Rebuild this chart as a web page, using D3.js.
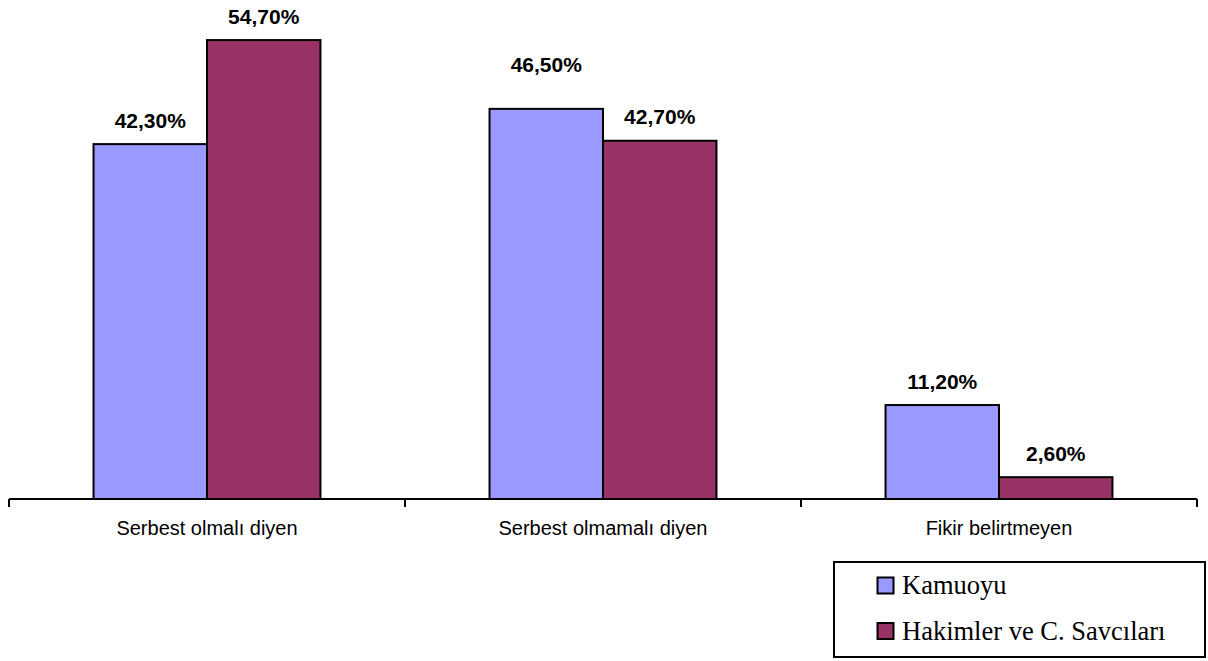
<!DOCTYPE html>
<html>
<head>
<meta charset="utf-8">
<script src="https://cdn.jsdelivr.net/npm/d3@7"></script>
<style>
  html, body { margin: 0; padding: 0; background: #fff; }
  svg { display: block; }
</style>
</head>
<body>
<svg id="chart" width="1208" height="661"></svg>
<script>
const categories = ["Serbest olmalı diyen", "Serbest olmamalı diyen", "Fikir belirtmeyen"];
const seriesNames = ["Kamuoyu", "Hakimler ve C. Savcıları"];
const kamuoyu = [42.3, 46.5, 11.2];
const hakimler = [54.7, 42.7, 2.6];
const valueLabels = [["42,30%", "46,50%", "11,20%"], ["54,70%", "42,70%", "2,60%"]];

const colors = ["#9999FF", "#993366"];
const seriesValues = [kamuoyu, hakimler];

const svg = d3.select("#chart");
const baseY = 499;

const x0 = d3.scaleBand().domain(categories).range([9, 1197]).paddingInner(0).paddingOuter(0);
const x1 = d3.scaleBand().domain(seriesNames).range([0, x0.bandwidth()]).paddingInner(0).paddingOuter(0.745);
const y = d3.scaleLinear().domain([0, 60]).range([baseY, baseY - 8.39 * 60]);

const data = [];
categories.forEach((c, i) => {
  seriesNames.forEach((s, j) => {
    data.push({ cat: c, ser: s, si: j, ci: i, v: seriesValues[j][i], label: valueLabels[j][i] });
  });
});

// bars
svg.append("g").selectAll("rect").data(data).join("rect")
  .attr("x", d => x0(d.cat) + x1(d.ser))
  .attr("y", d => y(d.v))
  .attr("width", x1.bandwidth())
  .attr("height", d => y(0) - y(d.v))
  .attr("fill", d => colors[d.si])
  .attr("stroke", "#000")
  .attr("stroke-width", 2);

// value labels
svg.append("g").selectAll("text").data(data).join("text")
  .attr("x", d => x0(d.cat) + x1(d.ser) + x1.bandwidth() / 2)
  .attr("y", d => y(d.v) - (d.si === 0 && d.ci === 1 ? 36.5 : 16.5))
  .attr("text-anchor", "middle")
  .attr("font-family", "Liberation Sans, Arial, sans-serif")
  .attr("font-weight", "bold")
  .attr("font-size", 21)
  .attr("fill", "#000")
  .text(d => d.label);

// axis
const axis = svg.append("g");
axis.append("line")
  .attr("x1", x0.range()[0]).attr("x2", x0.range()[1])
  .attr("y1", baseY).attr("y2", baseY)
  .attr("stroke", "#000").attr("stroke-width", 2);
const tickXs = categories.map(c => x0(c)).concat([x0.range()[1]]);
axis.selectAll("line.tick").data(tickXs).join("line")
  .attr("class", "tick")
  .attr("x1", d => d).attr("x2", d => d)
  .attr("y1", baseY).attr("y2", baseY + 8)
  .attr("stroke", "#000").attr("stroke-width", 2);
axis.selectAll("text").data(categories).join("text")
  .attr("x", d => x0(d) + x0.bandwidth() / 2)
  .attr("y", 535)
  .attr("text-anchor", "middle")
  .attr("font-family", "Liberation Sans, Arial, sans-serif")
  .attr("font-size", 20)
  .attr("fill", "#000")
  .text(d => d);

// legend
const lg = svg.append("g");
lg.append("rect")
  .attr("x", 834).attr("y", 562).attr("width", 371).attr("height", 95)
  .attr("fill", "#fff").attr("stroke", "#000").attr("stroke-width", 2);
const items = lg.selectAll("g.item").data(seriesNames).join("g")
  .attr("class", "item")
  .attr("transform", (d, i) => `translate(0, ${i * 45.5})`);
items.append("rect")
  .attr("x", 877.5).attr("y", 577.5).attr("width", 16).attr("height", 16)
  .attr("fill", (d, i) => colors[i]).attr("stroke", "#000").attr("stroke-width", 2);
items.append("text")
  .attr("x", 902).attr("y", 594)
  .attr("font-family", "Liberation Serif, Times New Roman, serif")
  .attr("font-size", 26.5)
  .attr("fill", "#000")
  .text(d => d);
</script>
</body>
</html>
